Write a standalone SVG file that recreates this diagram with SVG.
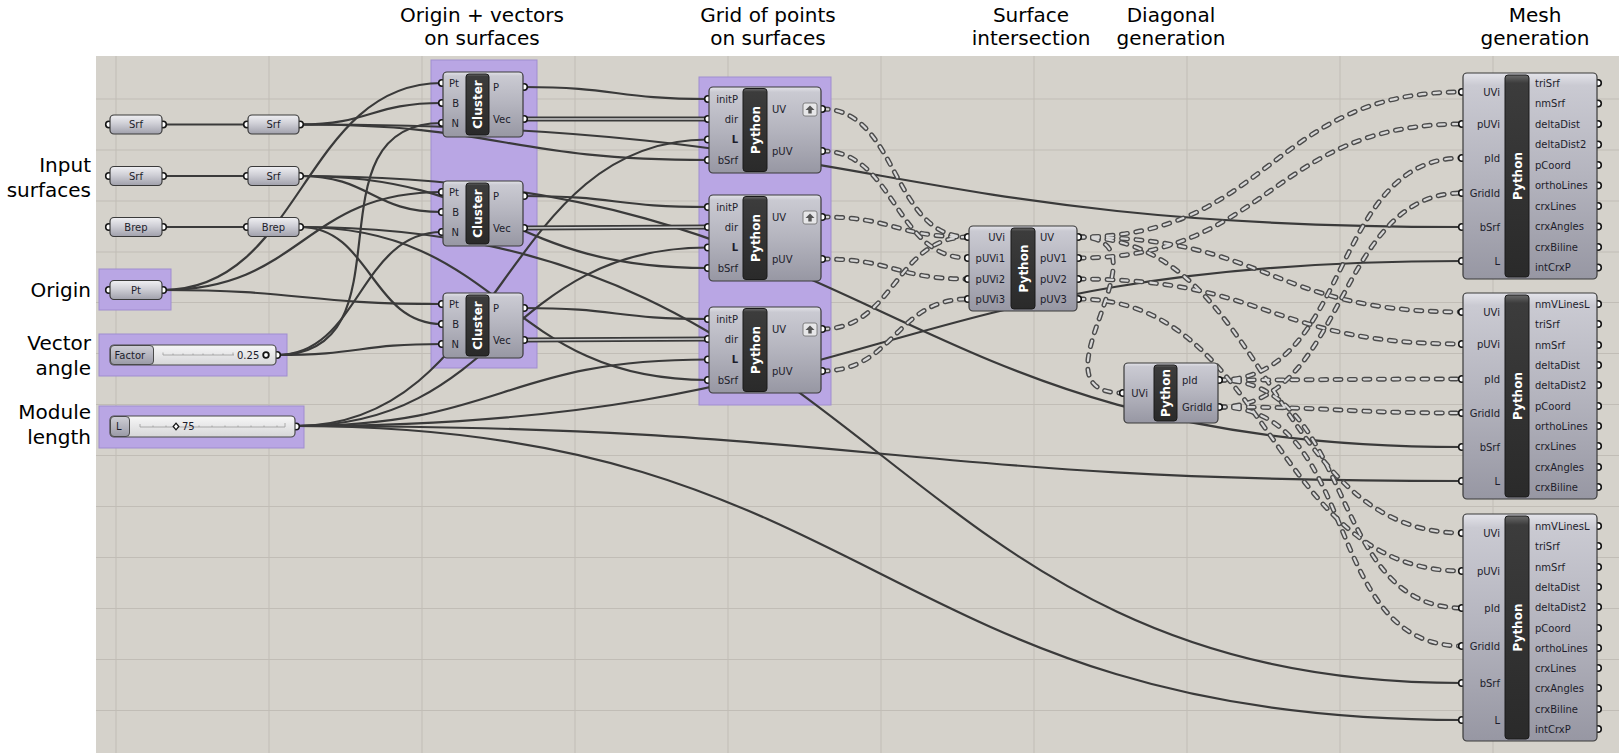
<svg xmlns="http://www.w3.org/2000/svg" width="1619" height="756" viewBox="0 0 1619 756">
<defs>
<linearGradient id="gBody" x1="0" y1="0" x2="0" y2="1">
<stop offset="0" stop-color="#e4e4ea"/><stop offset="0.06" stop-color="#cacad2"/><stop offset="0.5" stop-color="#b4b4be"/><stop offset="1" stop-color="#9797a3"/>
</linearGradient>
<linearGradient id="gParam" x1="0" y1="0" x2="0" y2="1">
<stop offset="0" stop-color="#f0f0f3"/><stop offset="0.45" stop-color="#cfcfd6"/><stop offset="1" stop-color="#a0a0ab"/>
</linearGradient>
<linearGradient id="gBar" x1="0" y1="0" x2="0" y2="1">
<stop offset="0" stop-color="#6a6a6a"/><stop offset="0.04" stop-color="#3c3c3c"/><stop offset="1" stop-color="#2a2a2a"/>
</linearGradient>
<linearGradient id="gRail" x1="0" y1="0" x2="0" y2="1">
<stop offset="0" stop-color="#f7f7f7"/><stop offset="1" stop-color="#d6d6d8"/>
</linearGradient>
<linearGradient id="gSlab" x1="0" y1="0" x2="0" y2="1">
<stop offset="0" stop-color="#cfcfd6"/><stop offset="1" stop-color="#9a9aa6"/>
</linearGradient>
</defs>
<style>
.grid{stroke:#c1bdb6;stroke-width:1;fill:none}
.grp{fill:#b9a6e4;stroke:#a08dd0;stroke-width:1}
.hdr{font-family:"DejaVu Sans",sans-serif;font-size:20px;fill:#000;text-anchor:middle}
.side{font-family:"DejaVu Sans",sans-serif;font-size:20px;fill:#000;text-anchor:end}
.wire{fill:none;stroke:#3a3a3a;stroke-width:2.2}
.list1{fill:none;stroke:#3a3a3a;stroke-width:5}
.list2{fill:none;stroke:#cfcfcf;stroke-width:1.6}
.tree1{fill:none;stroke:#4b4b4b;stroke-width:5;stroke-dasharray:6 8.5;stroke-linecap:round}
.tree2{fill:none;stroke:#d8d8d8;stroke-width:2.2;stroke-dasharray:6 8.5;stroke-linecap:round}
.body{fill:url(#gBody);stroke:#3a3a3a;stroke-width:1.2}
.param{fill:url(#gParam);stroke:#3a3a3a;stroke-width:1.2}
.bar{fill:url(#gBar);stroke:#1a1a1a;stroke-width:1}
.grip{fill:#fff;stroke:#151515;stroke-width:1.6}
.lbl{font-family:"DejaVu Sans",sans-serif;font-size:10px;fill:#1d1d2b}
.in{text-anchor:end}
.mid{text-anchor:middle}
.bart{font-family:"DejaVu Sans",sans-serif;font-size:12px;font-weight:bold;fill:#fff;text-anchor:middle}
.icon{fill:#e6e6e8;stroke:#6a6a6a;stroke-width:0.8}
.tick{stroke:#9a9a9a;stroke-width:0.8;fill:none}
</style>

<rect x="0" y="0" width="1619" height="756" fill="#ffffff"/>
<rect x="96" y="56" width="1523" height="697" fill="#d5d2cb"/>
<path class="grid" d="M116 56V753M269 56V753M422 56V753M575 56V753M728 56V753M881 56V753M1034 56V753M1187 56V753M1340 56V753M1493 56V753M96 99H1619M96 150H1619M96 201H1619M96 252H1619M96 302.5H1619M96 353.5H1619M96 404.5H1619M96 455.5H1619M96 506.5H1619M96 557.5H1619M96 608.5H1619M96 659.5H1619M96 710.5H1619"/>

<g id="groups">
<rect class="grp" x="99" y="269" width="72" height="41"/>
<rect class="grp" x="99" y="334" width="188" height="42"/>
<rect class="grp" x="99" y="406" width="205" height="42"/>
<rect class="grp" x="431" y="60" width="106" height="308"/>
<rect class="grp" x="699" y="77" width="132" height="328"/>
</g>

<g id="titles">
<text class="hdr" x="482" y="21.5">Origin + vectors</text>
<text class="hdr" x="482" y="45">on surfaces</text>
<text class="hdr" x="768" y="21.5">Grid of points</text>
<text class="hdr" x="768" y="45">on surfaces</text>
<text class="hdr" x="1031" y="21.5">Surface</text>
<text class="hdr" x="1031" y="45">intersection</text>
<text class="hdr" x="1171" y="21.5">Diagonal</text>
<text class="hdr" x="1171" y="45">generation</text>
<text class="hdr" x="1535" y="21.5">Mesh</text>
<text class="hdr" x="1535" y="45">generation</text>
<text class="side" x="91" y="171.5">Input</text>
<text class="side" x="91" y="197">surfaces</text>
<text class="side" x="91" y="297">Origin</text>
<text class="side" x="91" y="350">Vector</text>
<text class="side" x="91" y="374.5">angle</text>
<text class="side" x="91" y="419">Module</text>
<text class="side" x="91" y="444">length</text>
</g>

<g id="connectors">
<g class="wire">
<path d="M163 124.5L247 124.5"/>
<path d="M163 176L247 176"/>
<path d="M163 227L247 227"/>
<path d="M300 124.5C371 124.5 371 103 442 103"/>
<path d="M300 124.5C504 124.5 504 160 708 160"/>
<path d="M300 124.5C881 124.5 881 227 1462 227"/>
<path d="M300 176C371 176 371 212 442 212"/>
<path d="M300 176C504 176 504 268 708 268"/>
<path d="M300 176C881 176 881 447 1462 447"/>
<path d="M300 227C371 227 371 324 442 324"/>
<path d="M300 227C504 227 504 380 708 380"/>
<path d="M300 227C881 227 881 683 1462 683"/>
<path d="M163 290C302 290 303 83 442 83"/>
<path d="M163 290C302 290 303 192 442 192"/>
<path d="M163 290C302 290 303 304 442 304"/>
<path d="M277 355C416 355 303 123 442 123"/>
<path d="M277 355C359.5 355 359.5 232 442 232"/>
<path d="M277 355C359.5 355 359.5 344 442 344"/>
<path d="M296 426C502 426 502 139.5 708 139.5"/>
<path d="M296 426C502 426 502 247.5 708 247.5"/>
<path d="M296 426C502 426 502 359.5 708 359.5"/>
<path d="M296 426C879 426 879 261 1462 261"/>
<path d="M296 426C879 426 879 481 1462 481"/>
<path d="M296 426C879 426 879 720 1462 720"/>
<path d="M524 87C616 87 616 99 708 99"/>
<path d="M524 196C616 196 616 207 708 207"/>
<path d="M524 308C616 308 616 319 708 319"/>
</g>
<g class="list1">
<path id="l1" d="M524 119C616 119 616 119 708 119"/>
<path id="l2" d="M524 228C616 228 616 227 708 227"/>
<path id="l3" d="M524 340C616 340 616 339 708 339"/>
</g>
<g class="list2">
<use href="#l1"/><use href="#l2"/><use href="#l3"/>
</g>
<g class="tree1">
<path id="t1" d="M822 109C899 109 891 237 968 237"/>
<path id="t2" d="M822 217C895 217 895 237 968 237"/>
<path id="t3" d="M822 329C895 329 895 237 968 237"/>
<path id="t4" d="M822 151C895 151 895 258 968 258"/>
<path id="t5" d="M822 259C895 259 895 279 968 279"/>
<path id="t6" d="M822 371C895 371 895 299 968 299"/>
<path id="t7" d="M1078 237C1178 237 1023 393 1123 393"/>
<path id="t8" d="M1078 237C1270 237 1270 92 1462 92"/>
<path id="t9" d="M1078 237C1270 237 1270 312 1462 312"/>
<path id="t10" d="M1078 237C1270 237 1270 533 1462 533"/>
<path id="t11" d="M1078 258C1270 258 1270 124 1462 124"/>
<path id="t12" d="M1078 279C1270 279 1270 344 1462 344"/>
<path id="t13" d="M1078 299C1270 299 1270 571 1462 571"/>
<path id="t14" d="M1219 380C1352 380 1329 158 1462 158"/>
<path id="t15" d="M1219 407C1347 407 1334 193 1462 193"/>
<path id="t16" d="M1219 380C1340 380 1340 379 1462 379"/>
<path id="t17" d="M1219 407C1340 407 1340 413 1462 413"/>
<path id="t18" d="M1219 380C1356 380 1325 608 1462 608"/>
<path id="t19" d="M1219 407C1362 407 1319 646 1462 646"/>
</g>
<g class="tree2">
<use href="#t1"/><use href="#t2"/><use href="#t3"/><use href="#t4"/><use href="#t5"/><use href="#t6"/><use href="#t7"/><use href="#t8"/><use href="#t9"/><use href="#t10"/><use href="#t11"/><use href="#t12"/><use href="#t13"/><use href="#t14"/><use href="#t15"/><use href="#t16"/><use href="#t17"/><use href="#t18"/><use href="#t19"/>
</g>
</g>

<g id="n-srf1">
<circle class="grip" cx="109" cy="124.5" r="3.3"/><circle class="grip" cx="163" cy="124.5" r="3.3"/>
<rect class="param" x="110" y="115" width="52" height="19" rx="4"/>
<text class="lbl mid" x="136" y="128">Srf</text>
</g>
<g id="n-srf2">
<circle class="grip" cx="109" cy="176" r="3.3"/><circle class="grip" cx="163" cy="176" r="3.3"/>
<rect class="param" x="110" y="166.5" width="52" height="19" rx="4"/>
<text class="lbl mid" x="136" y="179.5">Srf</text>
</g>
<g id="n-brep1">
<circle class="grip" cx="109" cy="227" r="3.3"/><circle class="grip" cx="163" cy="227" r="3.3"/>
<rect class="param" x="110" y="217.5" width="52" height="19" rx="4"/>
<text class="lbl mid" x="136" y="230.5">Brep</text>
</g>
<g id="n-srf1b">
<circle class="grip" cx="247" cy="124.5" r="3.3"/><circle class="grip" cx="300" cy="124.5" r="3.3"/>
<rect class="param" x="248" y="115" width="51" height="19" rx="4"/>
<text class="lbl mid" x="273.5" y="128">Srf</text>
</g>
<g id="n-srf2b">
<circle class="grip" cx="247" cy="176" r="3.3"/><circle class="grip" cx="300" cy="176" r="3.3"/>
<rect class="param" x="248" y="166.5" width="51" height="19" rx="4"/>
<text class="lbl mid" x="273.5" y="179.5">Srf</text>
</g>
<g id="n-brep1b">
<circle class="grip" cx="247" cy="227" r="3.3"/><circle class="grip" cx="300" cy="227" r="3.3"/>
<rect class="param" x="248" y="217.5" width="51" height="19" rx="4"/>
<text class="lbl mid" x="273.5" y="230.5">Brep</text>
</g>
<g id="n-pt">
<circle class="grip" cx="109" cy="290" r="3.3"/><circle class="grip" cx="163" cy="290" r="3.3"/>
<rect class="param" x="110" y="280.5" width="52" height="19" rx="4"/>
<text class="lbl mid" x="136" y="293.5">Pt</text>
</g>

<g id="n-factor">
<circle class="grip" cx="277" cy="355" r="3.3"/>
<rect x="110" y="345" width="166" height="20" rx="4" fill="url(#gRail)" stroke="#4a4a4a" stroke-width="1.2"/>
<rect x="110.5" y="345.5" width="43" height="19" rx="3.5" fill="url(#gSlab)" stroke="#4a4a4a" stroke-width="1"/>
<text class="lbl" x="114.5" y="358.5">Factor</text>
<path class="tick" d="M163 355H234M163 352.5V355M173 353.5V355M183 353.5V355M193 353.5V355M203 353.5V355M213 353.5V355M223 353.5V355M233 352.5V355"/>
<text class="lbl" x="237" y="358.5">0.25</text>
<circle cx="266" cy="355" r="2.8" fill="#fff" stroke="#151515" stroke-width="1.8"/>
</g>

<g id="n-length">
<circle class="grip" cx="296" cy="426.5" r="3.3"/>
<rect x="110" y="416" width="185" height="21" rx="4" fill="url(#gRail)" stroke="#4a4a4a" stroke-width="1.2"/>
<rect x="110.5" y="416.5" width="19" height="20" rx="3.5" fill="url(#gSlab)" stroke="#4a4a4a" stroke-width="1"/>
<text class="lbl" x="116" y="430">L</text>
<path class="tick" d="M140 427H285M140 424V427M153 425.5V427M166 425.5V427M199 425.5V427M212 425.5V427M225 425.5V427M238 425.5V427M251 425.5V427M264 425.5V427M277 425.5V427M285 423V427"/>
<path d="M176 423.2L178.8 426.5L176 429.8L173.2 426.5Z" fill="#fff" stroke="#151515" stroke-width="1.3"/>
<text class="lbl" x="182" y="430">75</text>
</g>

<g id="n-cluster1">
<circle class="grip" cx="442" cy="83" r="3.3"/><circle class="grip" cx="442" cy="103" r="3.3"/><circle class="grip" cx="442" cy="123" r="3.3"/>
<circle class="grip" cx="524" cy="87" r="3.3"/><circle class="grip" cx="524" cy="119" r="3.3"/>
<rect class="body" x="443" y="72" width="80" height="65" rx="4"/>
<rect class="bar" x="466" y="74" width="23" height="61" rx="3"/>
<text class="bart" transform="translate(477.5 104.5) rotate(-90)" y="4.5">Cluster</text>
<text class="lbl in" x="459" y="86.5">Pt</text><text class="lbl in" x="459" y="106.5">B</text><text class="lbl in" x="459" y="126.5">N</text>
<text class="lbl" x="493" y="90.5">P</text><text class="lbl" x="493" y="122.5">Vec</text>
</g>
<g id="n-cluster2">
<circle class="grip" cx="442" cy="192" r="3.3"/><circle class="grip" cx="442" cy="212" r="3.3"/><circle class="grip" cx="442" cy="232" r="3.3"/>
<circle class="grip" cx="524" cy="196" r="3.3"/><circle class="grip" cx="524" cy="228" r="3.3"/>
<rect class="body" x="443" y="181" width="80" height="65" rx="4"/>
<rect class="bar" x="466" y="183" width="23" height="61" rx="3"/>
<text class="bart" transform="translate(477.5 213.5) rotate(-90)" y="4.5">Cluster</text>
<text class="lbl in" x="459" y="195.5">Pt</text><text class="lbl in" x="459" y="215.5">B</text><text class="lbl in" x="459" y="235.5">N</text>
<text class="lbl" x="493" y="199.5">P</text><text class="lbl" x="493" y="231.5">Vec</text>
</g>
<g id="n-cluster3">
<circle class="grip" cx="442" cy="304" r="3.3"/><circle class="grip" cx="442" cy="324" r="3.3"/><circle class="grip" cx="442" cy="344" r="3.3"/>
<circle class="grip" cx="524" cy="308" r="3.3"/><circle class="grip" cx="524" cy="340" r="3.3"/>
<rect class="body" x="443" y="293" width="80" height="65" rx="4"/>
<rect class="bar" x="466" y="295" width="23" height="61" rx="3"/>
<text class="bart" transform="translate(477.5 325.5) rotate(-90)" y="4.5">Cluster</text>
<text class="lbl in" x="459" y="307.5">Pt</text><text class="lbl in" x="459" y="327.5">B</text><text class="lbl in" x="459" y="347.5">N</text>
<text class="lbl" x="493" y="311.5">P</text><text class="lbl" x="493" y="343.5">Vec</text>
</g>

<g id="n-python1">
<circle class="grip" cx="708" cy="99" r="3.3"/><circle class="grip" cx="708" cy="119" r="3.3"/><circle class="grip" cx="708" cy="139.5" r="3.3"/><circle class="grip" cx="708" cy="160" r="3.3"/>
<circle class="grip" cx="822" cy="109" r="3.3"/><circle class="grip" cx="822" cy="151" r="3.3"/>
<rect class="body" x="709" y="87" width="112" height="86" rx="4"/>
<rect class="bar" x="743" y="88.5" width="24" height="83" rx="3"/>
<text class="bart" transform="translate(755 130) rotate(-90)" y="4.5">Python</text>
<text class="lbl in" x="738" y="102.5">initP</text><text class="lbl in" x="738" y="122.5">dir</text><text class="lbl in" x="738" y="143" font-weight="bold">L</text><text class="lbl in" x="738" y="163.5">bSrf</text>
<text class="lbl" x="772" y="112.5">UV</text><text class="lbl" x="772" y="154.5">pUV</text>
<rect class="icon" x="803" y="103" width="14" height="13" rx="2"/><path d="M810 105.5L805.5 110H808.3V113.5H811.7V110H814.5Z" fill="#555"/>
</g>
<g id="n-python2">
<circle class="grip" cx="708" cy="207" r="3.3"/><circle class="grip" cx="708" cy="227" r="3.3"/><circle class="grip" cx="708" cy="247.5" r="3.3"/><circle class="grip" cx="708" cy="268" r="3.3"/>
<circle class="grip" cx="822" cy="217" r="3.3"/><circle class="grip" cx="822" cy="259" r="3.3"/>
<rect class="body" x="709" y="195" width="112" height="86" rx="4"/>
<rect class="bar" x="743" y="196.5" width="24" height="83" rx="3"/>
<text class="bart" transform="translate(755 238) rotate(-90)" y="4.5">Python</text>
<text class="lbl in" x="738" y="210.5">initP</text><text class="lbl in" x="738" y="230.5">dir</text><text class="lbl in" x="738" y="251" font-weight="bold">L</text><text class="lbl in" x="738" y="271.5">bSrf</text>
<text class="lbl" x="772" y="220.5">UV</text><text class="lbl" x="772" y="262.5">pUV</text>
<rect class="icon" x="803" y="211" width="14" height="13" rx="2"/><path d="M810 213.5L805.5 218H808.3V221.5H811.7V218H814.5Z" fill="#555"/>
</g>
<g id="n-python3">
<circle class="grip" cx="708" cy="319" r="3.3"/><circle class="grip" cx="708" cy="339" r="3.3"/><circle class="grip" cx="708" cy="359.5" r="3.3"/><circle class="grip" cx="708" cy="380" r="3.3"/>
<circle class="grip" cx="822" cy="329" r="3.3"/><circle class="grip" cx="822" cy="371" r="3.3"/>
<rect class="body" x="709" y="307" width="112" height="86" rx="4"/>
<rect class="bar" x="743" y="308.5" width="24" height="83" rx="3"/>
<text class="bart" transform="translate(755 350) rotate(-90)" y="4.5">Python</text>
<text class="lbl in" x="738" y="322.5">initP</text><text class="lbl in" x="738" y="342.5">dir</text><text class="lbl in" x="738" y="363" font-weight="bold">L</text><text class="lbl in" x="738" y="383.5">bSrf</text>
<text class="lbl" x="772" y="332.5">UV</text><text class="lbl" x="772" y="374.5">pUV</text>
<rect class="icon" x="803" y="323" width="14" height="13" rx="2"/><path d="M810 325.5L805.5 330H808.3V333.5H811.7V330H814.5Z" fill="#555"/>
</g>

<g id="n-intersection">
<circle class="grip" cx="968" cy="237" r="3.3"/><circle class="grip" cx="968" cy="258" r="3.3"/><circle class="grip" cx="968" cy="279" r="3.3"/><circle class="grip" cx="968" cy="299" r="3.3"/>
<circle class="grip" cx="1078" cy="237" r="3.3"/><circle class="grip" cx="1078" cy="258" r="3.3"/><circle class="grip" cx="1078" cy="279" r="3.3"/><circle class="grip" cx="1078" cy="299" r="3.3"/>
<rect class="body" x="969" y="226" width="108" height="85" rx="4"/>
<rect class="bar" x="1011" y="228" width="24" height="81" rx="3"/>
<text class="bart" transform="translate(1023 268.5) rotate(-90)" y="4.5">Python</text>
<text class="lbl in" x="1005" y="240.5">UVi</text><text class="lbl in" x="1005" y="261.5">pUVi1</text><text class="lbl in" x="1005" y="282.5">pUVi2</text><text class="lbl in" x="1005" y="302.5">pUVi3</text>
<text class="lbl" x="1040" y="240.5">UV</text><text class="lbl" x="1040" y="261.5">pUV1</text><text class="lbl" x="1040" y="282.5">pUV2</text><text class="lbl" x="1040" y="302.5">pUV3</text>
</g>

<g id="n-diagonal">
<circle class="grip" cx="1123" cy="393" r="3.3"/>
<circle class="grip" cx="1219" cy="380" r="3.3"/><circle class="grip" cx="1219" cy="407" r="3.3"/>
<rect class="body" x="1124" y="363" width="94" height="60" rx="4"/>
<rect class="bar" x="1154" y="365" width="23" height="56" rx="3"/>
<text class="bart" transform="translate(1165.5 393) rotate(-90)" y="4.5">Python</text>
<text class="lbl in" x="1148" y="396.5">UVi</text>
<text class="lbl" x="1182" y="383.5">pId</text><text class="lbl" x="1182" y="410.5">GridId</text>
</g>

<g id="n-mesh1">
<circle class="grip" cx="1462" cy="92" r="3.3"/><circle class="grip" cx="1462" cy="124" r="3.3"/><circle class="grip" cx="1462" cy="158" r="3.3"/><circle class="grip" cx="1462" cy="193" r="3.3"/><circle class="grip" cx="1462" cy="227" r="3.3"/><circle class="grip" cx="1462" cy="261" r="3.3"/>
<circle class="grip" cx="1598" cy="83" r="3.3"/><circle class="grip" cx="1598" cy="103.5" r="3.3"/><circle class="grip" cx="1598" cy="124" r="3.3"/><circle class="grip" cx="1598" cy="144.5" r="3.3"/><circle class="grip" cx="1598" cy="165" r="3.3"/><circle class="grip" cx="1598" cy="185.5" r="3.3"/><circle class="grip" cx="1598" cy="206" r="3.3"/><circle class="grip" cx="1598" cy="226.5" r="3.3"/><circle class="grip" cx="1598" cy="247" r="3.3"/><circle class="grip" cx="1598" cy="267.5" r="3.3"/>
<rect class="body" x="1463" y="73" width="134" height="206" rx="4"/>
<rect class="bar" x="1505" y="75" width="24" height="202" rx="3"/>
<text class="bart" transform="translate(1517 176) rotate(-90)" y="4.5">Python</text>
<text class="lbl in" x="1500" y="95.5">UVi</text><text class="lbl in" x="1500" y="127.5">pUVi</text><text class="lbl in" x="1500" y="161.5">pId</text><text class="lbl in" x="1500" y="196.5">GridId</text><text class="lbl in" x="1500" y="230.5">bSrf</text><text class="lbl in" x="1500" y="264.5">L</text>
<text class="lbl" x="1535" y="86.5">triSrf</text><text class="lbl" x="1535" y="107">nmSrf</text><text class="lbl" x="1535" y="127.5">deltaDist</text><text class="lbl" x="1535" y="148">deltaDist2</text><text class="lbl" x="1535" y="168.5">pCoord</text><text class="lbl" x="1535" y="189">orthoLines</text><text class="lbl" x="1535" y="209.5">crxLines</text><text class="lbl" x="1535" y="230">crxAngles</text><text class="lbl" x="1535" y="250.5">crxBiline</text><text class="lbl" x="1535" y="271">intCrxP</text>
</g>

<g id="n-mesh2">
<circle class="grip" cx="1462" cy="312" r="3.3"/><circle class="grip" cx="1462" cy="344" r="3.3"/><circle class="grip" cx="1462" cy="379" r="3.3"/><circle class="grip" cx="1462" cy="413" r="3.3"/><circle class="grip" cx="1462" cy="447" r="3.3"/><circle class="grip" cx="1462" cy="481" r="3.3"/>
<circle class="grip" cx="1598" cy="304" r="3.3"/><circle class="grip" cx="1598" cy="324" r="3.3"/><circle class="grip" cx="1598" cy="345" r="3.3"/><circle class="grip" cx="1598" cy="365" r="3.3"/><circle class="grip" cx="1598" cy="385" r="3.3"/><circle class="grip" cx="1598" cy="406" r="3.3"/><circle class="grip" cx="1598" cy="426" r="3.3"/><circle class="grip" cx="1598" cy="446" r="3.3"/><circle class="grip" cx="1598" cy="467" r="3.3"/><circle class="grip" cx="1598" cy="487" r="3.3"/>
<rect class="body" x="1463" y="293" width="134" height="206" rx="4"/>
<rect class="bar" x="1505" y="295" width="24" height="202" rx="3"/>
<text class="bart" transform="translate(1517 396) rotate(-90)" y="4.5">Python</text>
<text class="lbl in" x="1500" y="315.5">UVi</text><text class="lbl in" x="1500" y="347.5">pUVi</text><text class="lbl in" x="1500" y="382.5">pId</text><text class="lbl in" x="1500" y="416.5">GridId</text><text class="lbl in" x="1500" y="450.5">bSrf</text><text class="lbl in" x="1500" y="484.5">L</text>
<text class="lbl" x="1535" y="307.5">nmVLinesL</text><text class="lbl" x="1535" y="327.5">triSrf</text><text class="lbl" x="1535" y="348.5">nmSrf</text><text class="lbl" x="1535" y="368.5">deltaDist</text><text class="lbl" x="1535" y="388.5">deltaDist2</text><text class="lbl" x="1535" y="409.5">pCoord</text><text class="lbl" x="1535" y="429.5">orthoLines</text><text class="lbl" x="1535" y="449.5">crxLines</text><text class="lbl" x="1535" y="470.5">crxAngles</text><text class="lbl" x="1535" y="490.5">crxBiline</text>
</g>

<g id="n-mesh3">
<circle class="grip" cx="1462" cy="533" r="3.3"/><circle class="grip" cx="1462" cy="571" r="3.3"/><circle class="grip" cx="1462" cy="608" r="3.3"/><circle class="grip" cx="1462" cy="646" r="3.3"/><circle class="grip" cx="1462" cy="683" r="3.3"/><circle class="grip" cx="1462" cy="720" r="3.3"/>
<circle class="grip" cx="1598" cy="526" r="3.3"/><circle class="grip" cx="1598" cy="546" r="3.3"/><circle class="grip" cx="1598" cy="567" r="3.3"/><circle class="grip" cx="1598" cy="587" r="3.3"/><circle class="grip" cx="1598" cy="607" r="3.3"/><circle class="grip" cx="1598" cy="628" r="3.3"/><circle class="grip" cx="1598" cy="648" r="3.3"/><circle class="grip" cx="1598" cy="668" r="3.3"/><circle class="grip" cx="1598" cy="688" r="3.3"/><circle class="grip" cx="1598" cy="709" r="3.3"/><circle class="grip" cx="1598" cy="729" r="3.3"/>
<rect class="body" x="1463" y="514" width="134" height="227" rx="4"/>
<rect class="bar" x="1505" y="516" width="24" height="223" rx="3"/>
<text class="bart" transform="translate(1517 627.5) rotate(-90)" y="4.5">Python</text>
<text class="lbl in" x="1500" y="536.5">UVi</text><text class="lbl in" x="1500" y="574.5">pUVi</text><text class="lbl in" x="1500" y="611.5">pId</text><text class="lbl in" x="1500" y="649.5">GridId</text><text class="lbl in" x="1500" y="686.5">bSrf</text><text class="lbl in" x="1500" y="723.5">L</text>
<text class="lbl" x="1535" y="529.5">nmVLinesL</text><text class="lbl" x="1535" y="549.5">triSrf</text><text class="lbl" x="1535" y="570.5">nmSrf</text><text class="lbl" x="1535" y="590.5">deltaDist</text><text class="lbl" x="1535" y="610.5">deltaDist2</text><text class="lbl" x="1535" y="631.5">pCoord</text><text class="lbl" x="1535" y="651.5">orthoLines</text><text class="lbl" x="1535" y="671.5">crxLines</text><text class="lbl" x="1535" y="691.5">crxAngles</text><text class="lbl" x="1535" y="712.5">crxBiline</text><text class="lbl" x="1535" y="732.5">intCrxP</text>
</g>
</svg>
